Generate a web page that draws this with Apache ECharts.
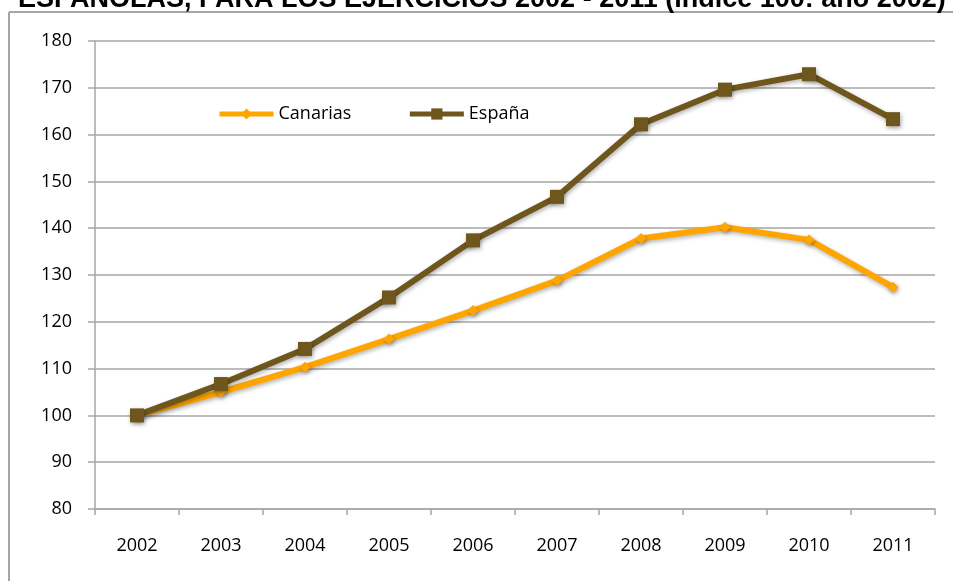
<!DOCTYPE html>
<html>
<head>
<meta charset="utf-8">
<script src="https://cdn.jsdelivr.net/npm/echarts@6/dist/echarts.min.js"></script>
<style>
html,body{margin:0;padding:0;background:#fff;}
#c{width:953px;height:581px;}
</style>
</head>
<body>
<div id="c"></div>
<script>
const titleText = 'ESPAÑOLAS, PARA LOS EJERCICIOS 2002 - 2011 (índice 100: año 2002)';
const categories = ['2002','2003','2004','2005','2006','2007','2008','2009','2010','2011'];
const canarias = [100, 105.0, 110.3, 116.3, 122.4, 128.8, 137.8, 140.2, 137.5, 127.4];
const espana   = [100, 106.7, 114.2, 125.2, 137.4, 146.7, 162.2, 169.6, 172.9, 163.3];
const yTicks = {min: 80, max: 180, interval: 10};

const chart = echarts.init(document.getElementById('c'));
const font = '"Open Sans", "DejaVu Sans", sans-serif';
chart.setOption({
  animation: false,
  backgroundColor: '#fff',
  graphic: [
    {type:'line', shape:{x1:9,y1:12,x2:953,y2:12}, style:{stroke:'#a6a6a6', lineWidth:2}, z:0},
    {type:'line', shape:{x1:9,y1:12,x2:9,y2:581}, style:{stroke:'#a6a6a6', lineWidth:2}, z:0},
    {type:'text', x: 18, y: 0, style:{text:titleText, font:'bold 27px "Liberation Sans", Arial, sans-serif', fill:'#000', verticalAlign:'middle'}, z:10}
  ],
  legend: {
    left: 212, top: 100,
    itemWidth: 54, itemHeight: 14, itemGap: 56,
    lineStyle: {width: 5},
    textStyle: {fontFamily: font, fontSize: 18, color: '#000'},
    data: [
      {name:'Canarias', itemStyle:{shadowBlur:0}},
      {name:'España', itemStyle:{shadowBlur:0}}
    ]
  },
  grid: {left: 95, right: 18, top: 41, bottom: 72, containLabel: false},
  xAxis: {
    type: 'category', data: categories, boundaryGap: true,
    axisLine: {lineStyle:{color:'#a6a6a6', width:1.5}},
    axisTick: {show:true, length:6, lineStyle:{color:'#a6a6a6', width:1.5}},
    axisLabel: {fontFamily: font, fontSize: 18, color:'#000', margin: 28}
  },
  yAxis: {
    type: 'value', min: yTicks.min, max: yTicks.max, interval: yTicks.interval,
    axisLine: {show:true, lineStyle:{color:'#a6a6a6', width:1.5}},
    axisTick: {show:true, length:7, lineStyle:{color:'#a6a6a6', width:1.5}},
    axisLabel: {fontFamily: font, fontSize: 18, color:'#000', margin: 23},
    splitLine: {lineStyle:{color:'#a6a6a6', width:1.5}}
  },
  series: [
    {
      name:'Canarias', type:'line', data: canarias,
      symbol:'diamond', symbolSize: 11, showAllSymbol:true,
      itemStyle:{color:'#FFA500', shadowBlur:4, shadowColor:'rgba(0,0,0,0.35)', shadowOffsetX:1, shadowOffsetY:2},
      lineStyle:{color:'#FFA500', width:6, shadowBlur:4, shadowColor:'rgba(0,0,0,0.3)', shadowOffsetX:1, shadowOffsetY:2},
      z: 2
    },
    {
      name:'España', type:'line', data: espana,
      symbol:'rect', symbolSize: 14, showAllSymbol:true,
      itemStyle:{color:'#6E561C', shadowBlur:4, shadowColor:'rgba(0,0,0,0.35)', shadowOffsetX:1, shadowOffsetY:2},
      lineStyle:{color:'#6E561C', width:6, shadowBlur:4, shadowColor:'rgba(0,0,0,0.3)', shadowOffsetX:1, shadowOffsetY:2},
      z: 3
    }
  ]
});
</script>
</body>
</html>
